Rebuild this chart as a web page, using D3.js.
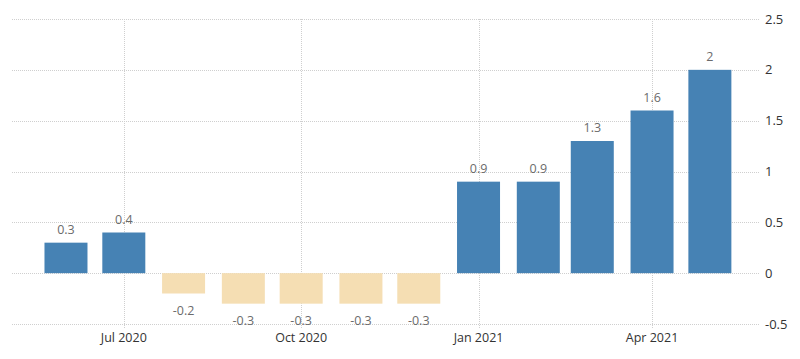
<!DOCTYPE html>
<meta charset="utf-8">
<head>
	<title>Monthly change</title>
	<style>
		body { margin: 0; background: #fff; }
		.grid line { stroke: #cfcfcf; stroke-dasharray: 1,1; stroke-width: 1px; }
		.vals { font-family: "Open Sans", sans-serif; font-size: 12.5px; fill: #6b6b6b; }
		.axis text { font-family: "Open Sans", sans-serif; font-size: 12.5px; fill: #333; }
	</style>
</head>
<body>
	<div class="container"></div>
</body>
<script src="https://cdnjs.cloudflare.com/ajax/libs/d3/7.8.5/d3.min.js"></script>
<script type="text/javascript">

	// Data: one value per month, bars sit on the first of the month
	var months = ["2020-06", "2020-07", "2020-08", "2020-09", "2020-10", "2020-11",
		"2020-12", "2021-01", "2021-02", "2021-03", "2021-04", "2021-05"];
	var values = [0.3, 0.4, -0.2, -0.3, -0.3, -0.3, -0.3, 0.9, 0.9, 1.3, 1.6, 2];
	var xTicks = ["2020-07", "2020-10", "2021-01", "2021-04"];
	var yTicks = [-0.5, 0, 0.5, 1, 1.5, 2, 2.5];

	var width = 800, height = 359;
	var parse = d3.timeParse("%Y-%m");

	var svg = d3.select(".container").append("svg")
		.attr("width", width)
		.attr("height", height);

	var x = d3.scaleTime()
		.domain([new Date(2020, 4, 4), new Date(2021, 4, 27)])
		.range([12, 760]);

	var y = d3.scaleLinear()
		.domain([-0.5, 2.5])
		.range([324, 19]);

	var barW = 43;

	// horizontal grid
	svg.append("g").attr("class", "grid")
		.selectAll("line")
		.data(yTicks)
		.enter().append("line")
		.attr("x1", 12).attr("x2", 760)
		.attr("y1", function (d) { return Math.round(y(d)) + 0.5; })
		.attr("y2", function (d) { return Math.round(y(d)) + 0.5; });

	// vertical grid at the date ticks
	svg.append("g").attr("class", "grid")
		.selectAll("line")
		.data(xTicks)
		.enter().append("line")
		.attr("x1", function (d) { return Math.round(x(parse(d))) + 0.5; })
		.attr("x2", function (d) { return Math.round(x(parse(d))) + 0.5; })
		.attr("y1", y(2.5)).attr("y2", 329);

	// bars
	svg.append("g")
		.selectAll("rect")
		.data(values)
		.enter().append("rect")
		.attr("x", function (d, i) { return x(parse(months[i])) - barW / 2; })
		.attr("width", barW)
		.attr("y", function (d) { return y(Math.max(0, d)); })
		.attr("height", function (d) { return Math.abs(y(d) - y(0)); })
		.attr("fill", function (d) { return d >= 0 ? "#4682b4" : "#f5deb3"; });

	// value labels
	svg.append("g").attr("class", "vals")
		.selectAll("text")
		.data(values)
		.enter().append("text")
		.attr("x", function (d, i) { return x(parse(months[i])); })
		.attr("y", function (d) { return d >= 0 ? y(d) - 9 : y(d) + 21; })
		.attr("text-anchor", "middle")
		.text(function (d) { return d; });

	// x axis labels
	var fmt = d3.timeFormat("%b %Y");
	svg.append("g").attr("class", "axis")
		.selectAll("text")
		.data(xTicks)
		.enter().append("text")
		.attr("x", function (d) { return x(parse(d)); })
		.attr("y", 342)
		.attr("text-anchor", "middle")
		.text(function (d) { return fmt(parse(d)); });

	// y axis labels on the right
	svg.append("g").attr("class", "axis")
		.selectAll("text")
		.data(yTicks)
		.enter().append("text")
		.attr("x", 765)
		.attr("y", function (d) { return y(d) + 4.5; })
		.style("font-size", "13px")
		.text(function (d) { return d; });

</script>
